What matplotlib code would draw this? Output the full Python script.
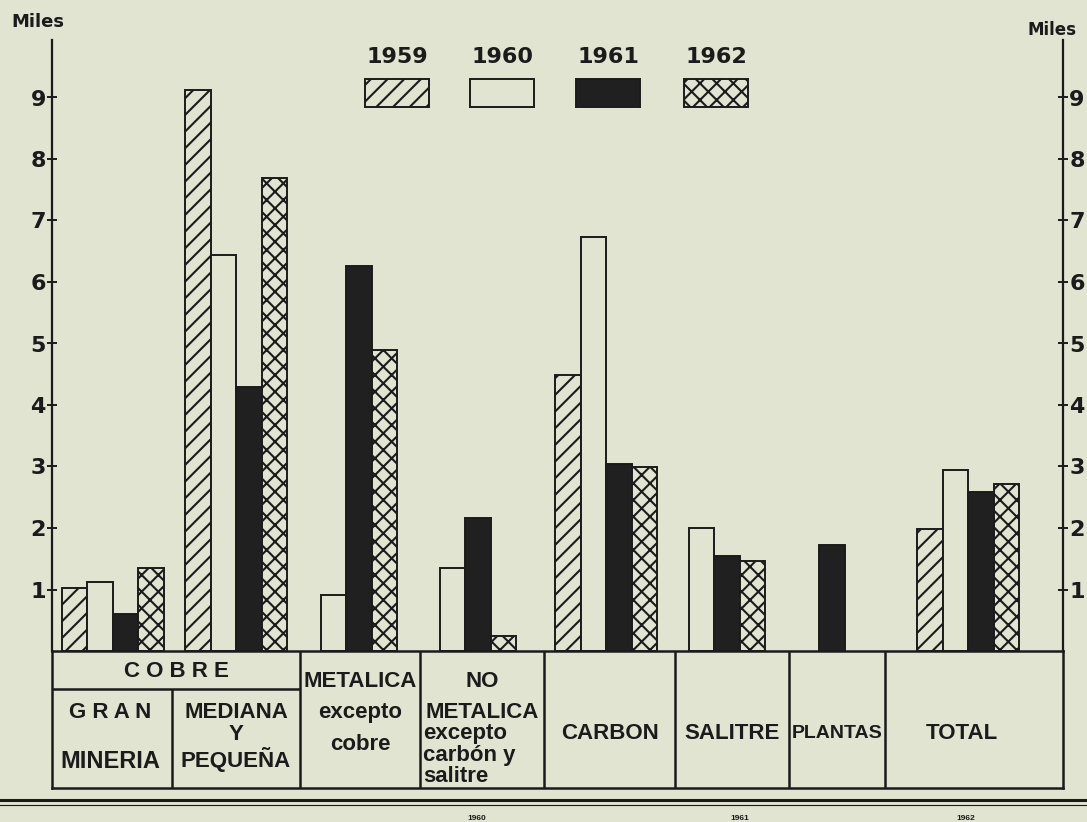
import numpy as np
import matplotlib
matplotlib.use('Agg')
import matplotlib.pyplot as plt
from matplotlib.patches import Rectangle

# Accidentes en la mineria (miles), por sector y año
years = ['1959', '1960', '1961', '1962']
v1959 = [1.03, 9.12, np.nan, np.nan, 4.49, np.nan, np.nan, 1.98]
v1960 = [1.12, 6.44, 0.91, 1.35, 6.73, 2.00, np.nan, 2.94]
v1961 = [0.60, 4.30, 6.26, 2.16, 3.04, 1.54, 1.72, 2.59]
v1962 = [1.35, 7.69, 4.90, 0.24, 2.99, 1.46, np.nan, 2.72]
series = [v1959, v1960, v1961, v1962]

# layout (pixel-like x units, matching the printed table columns)
group_x = [112.5, 236, 346, 465, 606, 714, 819, 968]
bar_w = 25.5
col_edges = [300, 420, 544, 675, 789, 885]

bg = '#e0e4d0'
ink = '#1b1b1b'
hatches = ['//', '', '', 'xx']
fills = [bg, bg, '#202020', bg]

plt.rcParams['hatch.linewidth'] = 1.5
plt.rcParams['hatch.color'] = ink
plt.rcParams['font.family'] = ['Liberation Sans', 'DejaVu Sans']

W, H = 1087, 822
fig = plt.figure(figsize=(W / 100, H / 100), dpi=100)
fig.patch.set_facecolor(bg)

x0, x1, y_top, y_base, y_tab = 52, 1063, 40, 651, 788
ax = fig.add_axes([x0 / W, (H - y_base) / H, (x1 - x0) / W, (y_base - y_top) / H])
ax.set_facecolor('none')
ymax = (y_base - y_top) / 61.5
ax.set_xlim(x0, x1)
ax.set_ylim(0, ymax)

for i, vals in enumerate(series):
    xs = [g + (i - 1.5) * bar_w for g in group_x]
    ax.bar(xs, vals, width=bar_w, color=fills[i], edgecolor=ink,
           linewidth=1.4, hatch=hatches[i])

for s in ['top', 'bottom', 'right']:
    ax.spines[s].set_visible(False)
ax.spines['left'].set_linewidth(1.6)
ax.spines['left'].set_color(ink)
ax.set_xticks([])
ax.set_yticks(range(1, 10))
ax.tick_params(axis='y', direction='inout', length=7, width=1.4, colors=ink,
               labelsize=16, pad=1)
for lab in ax.get_yticklabels():
    lab.set_fontweight('heavy')
    lab.set_family('DejaVu Sans')

ax2 = ax.twinx()
ax2.set_ylim(0, ymax)
for s in ['top', 'bottom', 'left']:
    ax2.spines[s].set_visible(False)
ax2.spines['right'].set_linewidth(1.6)
ax2.spines['right'].set_color(ink)
ax2.set_yticks(range(1, 10))
ax2.tick_params(axis='y', direction='inout', length=7, width=1.4, colors=ink,
                labelsize=16, pad=1)
for lab in ax2.get_yticklabels():
    lab.set_fontweight('heavy')
    lab.set_family('DejaVu Sans')

# category table under the bars
tab = fig.add_axes([x0 / W, (H - y_tab) / H, (x1 - x0) / W, (y_tab - y_base) / H])
tab.set_facecolor('none')
tab.set_xlim(x0, x1)
tab.set_ylim(y_tab, y_base)
tab.set_xticks([])
tab.set_yticks([])
for s in tab.spines.values():
    s.set_linewidth(1.8)
    s.set_color(ink)
tab.vlines(col_edges, y_base, y_tab, color=ink, lw=1.8)
tab.vlines([172], 689, y_tab, color=ink, lw=1.8)
tab.hlines([689], x0, 300, color=ink, lw=1.8)

tk = dict(ha='center', va='center', fontsize=16, fontweight='bold', color=ink)
tab.text(176, 671, 'C O B R E', **tk)
tab.text(110, 712, 'G R A N', **tk)
tab.text(110, 761, 'MINERIA', ha='center', va='center', fontsize=17,
         fontweight='bold', color=ink)
tab.text(236, 712, 'MEDIANA', **tk)
tab.text(236, 734, 'Y', **tk)
tab.text(236, 759, 'PEQUEÑA', **tk)
tab.text(360, 681, 'METALICA', **tk)
tab.text(360, 712, 'excepto', **tk)
tab.text(360, 744, 'cobre', **tk)
tab.text(482, 681, 'NO', **tk)
tab.text(482, 712, 'METALICA', **tk)
for yy, t in zip([733, 755, 776], ['excepto', 'carbón y', 'salitre']):
    tab.text(423, yy, t, ha='left', va='center', fontsize=16,
             fontweight='bold', color=ink)
tab.text(610, 733, 'CARBON', **tk)
tab.text(732, 733, 'SALITRE', **tk)
tab.text(837, 733, 'PLANTAS', ha='center', va='center', fontsize=14,
         fontweight='bold', color=ink)
tab.text(962, 733, 'TOTAL', **tk)

# overlay for legend, units and page rule
ov = fig.add_axes([0, 0, 1, 1])
ov.set_xlim(0, W)
ov.set_ylim(H, 0)
ov.axis('off')
ov.patch.set_visible(False)

leg_x = [365, 470, 576, 684]
for i, yr in enumerate(years):
    ov.add_patch(Rectangle((leg_x[i], 79), 64, 28, facecolor=fills[i],
                           edgecolor=ink, linewidth=1.4, hatch=hatches[i]))
    ov.text(leg_x[i] + 32, 57, yr, ha='center', va='center', fontsize=16,
            fontweight='heavy', family='DejaVu Sans', color=ink)

ov.text(38, 22, 'Miles', ha='center', va='center', fontsize=13,
        fontweight='heavy', family='DejaVu Sans', color=ink)
ov.text(1052, 30, 'Miles', ha='center', va='center', fontsize=12,
        fontweight='heavy', family='DejaVu Sans', color=ink)

ov.plot([0, W], [800, 800], color=ink, lw=2.2)
ov.plot([0, W], [805, 805], color=ink, lw=0.8)
for xx, t in zip([477, 740, 966], ['1960', '1961', '1962']):
    ov.text(xx, 818, t, ha='center', va='center', fontsize=6,
            fontweight='bold', color=ink)

fig.savefig('out.png', dpi=100, facecolor=bg)
